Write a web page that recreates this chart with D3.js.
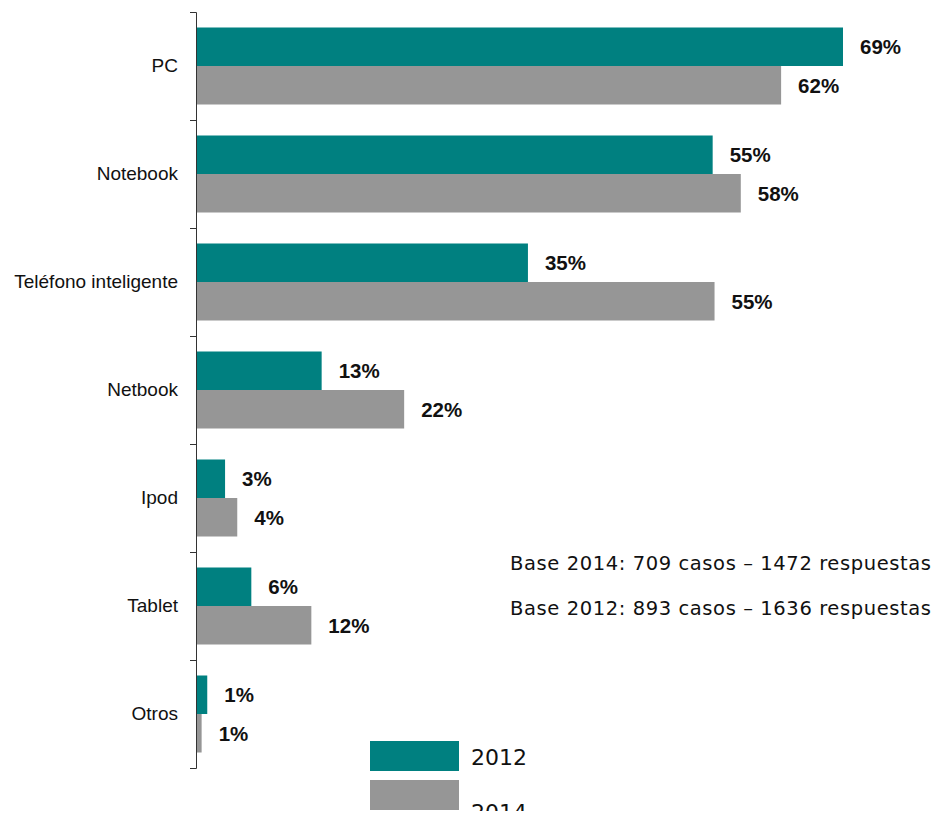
<!DOCTYPE html>
<html>
<head>
<meta charset="utf-8">
<script src="https://cdn.jsdelivr.net/npm/d3@7"></script>
<style>
  body { margin:0; background:#fff; }
  .cat { font-family: "Liberation Sans", Arial, sans-serif; font-size:19px; fill:#111; }
  .lbl { font-family: "Liberation Sans", Arial, sans-serif; font-size:20.5px; font-weight:bold; fill:#111; }
  .note { font-family: "DejaVu Sans", sans-serif; font-size:19.5px; letter-spacing:0.6px; fill:#111; }
  .leg { font-family: "DejaVu Sans", sans-serif; font-size:22px; fill:#111; }
</style>
</head>
<body>
<div id="chart"></div>
<script>
var categories = ["PC","Notebook","Teléfono inteligente","Netbook","Ipod","Tablet","Otros"];
var series = ["2012","2014"];
// bar lengths (labels show the rounded value)
var values2012 = [69,55.1,35.4,13.4,3.1,5.9,1.2];
var values2014 = [62.4,58.1,55.3,22.2,4.4,12.3,0.6];
var notes = ["Base 2014: 709 casos – 1472 respuestas","Base 2012: 893 casos – 1636 respuestas"];
var colors = ["#008080","#969696"];

var W = 937, H = 817;
var svg = d3.select("#chart").append("svg")
    .attr("width", W).attr("height", H)

// the original is cut at the bottom edge
svg.append("clipPath").attr("id","cut")
  .append("rect").attr("x",0).attr("y",0).attr("width",W).attr("height",811)
var g = svg.append("g").attr("clip-path","url(#cut)")

var x = d3.scaleLinear().domain([0,69]).range([196,843])
var y = d3.scaleBand().domain(categories).range([12,768]).paddingInner(0.287).paddingOuter(0.1435)
var ys = d3.scaleBand().domain(series).range([0,y.bandwidth()])

var rows = categories.map(function(c,i){ return {cat:c, vals:[values2012[i],values2014[i]]} })

var row = g.selectAll("g.row").data(rows).enter().append("g")
    .attr("class","row")
    .attr("transform", function(d){ return "translate(0," + y(d.cat) + ")" })

row.selectAll("rect").data(function(d){ return d.vals.map(function(v,j){ return {v:v, s:series[j], j:j} }) })
  .enter().append("rect")
    .attr("x", x(0))
    .attr("y", function(d){ return ys(d.s) })
    .attr("width", function(d){ return x(d.v)-x(0) })
    .attr("height", ys.bandwidth())
    .attr("fill", function(d){ return colors[d.j] })

row.selectAll("text.lbl").data(function(d){ return d.vals.map(function(v,j){ return {v:v, s:series[j]} }) })
  .enter().append("text")
    .attr("class","lbl")
    .attr("x", function(d){ return x(d.v)+17 })
    .attr("y", function(d){ return ys(d.s)+ys.bandwidth()/2 })
    .attr("dy","0.36em")
    .text(function(d){ return Math.round(d.v) + "%" })

// axis: ticks sit between the category groups
var axis = d3.axisLeft(d3.scaleLinear().domain([0,categories.length]).range([12,768]))
    .tickValues(d3.range(categories.length+1)).tickSize(6).tickFormat("")
g.append("g").attr("transform","translate(196,0)").call(axis)
  .call(function(a){ a.selectAll("path,line").attr("stroke","#333") })

g.selectAll("text.cat").data(categories).enter().append("text")
    .attr("class","cat")
    .attr("x",178)
    .attr("y", function(d){ return y(d)+y.bandwidth()/2 - 1 })
    .attr("dy","0.36em")
    .attr("text-anchor","end")
    .text(function(d){ return d })

g.selectAll("text.note").data(notes).enter().append("text")
    .attr("class","note")
    .attr("x",510)
    .attr("y", function(d,i){ return 570+i*45 })
    .text(function(d){ return d })

// legend (second label hangs below the cut, as in the original)
var leg = g.selectAll("g.leg").data(series).enter().append("g")
    .attr("transform", function(d,i){ return "translate(370," + (741+i*39) + ")" })
leg.append("rect").attr("width",89).attr("height",30).attr("fill", function(d,i){ return colors[i] })
leg.append("text").attr("class","leg").attr("x",101)
    .attr("y", function(d,i){ return i==0 ? 24 : 40 })
    .text(function(d){ return d })
</script>
</body>
</html>
